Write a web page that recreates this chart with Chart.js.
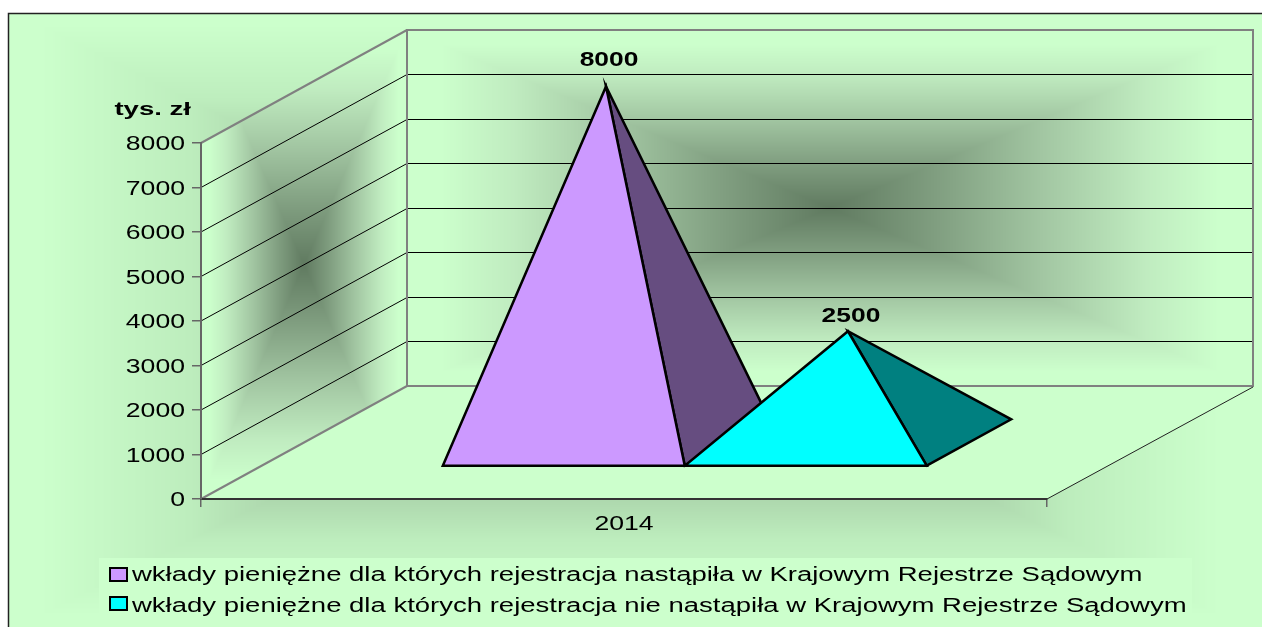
<!DOCTYPE html>
<html><head><meta charset="utf-8">
<style>html,body{margin:0;padding:0;background:#fff;overflow:hidden}#w{width:1262px;height:627px;position:relative}</style>
<script src="https://cdn.jsdelivr.net/npm/chart.js@4/dist/chart.umd.min.js"></script>
</head><body><div id="w"><canvas id="c" width="1262" height="627"></canvas></div>
<script>
const categories = ['2014'];
const registered = [8000];
const notRegistered = [2500];
const seriesNames = [
  'wkłady pieniężne dla których rejestracja nastąpiła w Krajowym Rejestrze Sądowym',
  'wkłady pieniężne dla których rejestracja nie nastąpiła w Krajowym Rejestrze Sądowym'
];
const frontColors = ['#CC99FF', '#00FFFF'];
const sideColors = ['#664D80', '#008080'];
const axisUnit = 'tys. zł';

const FONT = '"Liberation Sans", Arial, sans-serif';
const DEPTH = {x: 206, y: -113};
const STRETCH = 1.33;
const OUTER = [[0,96,122,96],[.63,176,219,176],[.745,189,237,189],[.9,198,248,198],[1,204,255,204]];
const WALL = [[0,96,122,96],[.25,128,158,128],[.5,162,198,162],[.75,192,236,192],[.92,204,255,204],[1,204,255,204]];

function shadeImage(x0,y0,x1,y1,stops){
  const w=x1-x0,h=y1-y0,off=document.createElement('canvas');off.width=w;off.height=h;
  const o=off.getContext('2d'),im=o.createImageData(w,h),d=im.data;
  for(let j=0;j<h;j++)for(let i=0;i<w;i++){
    const t=Math.min(1,Math.max(Math.abs(i+.5-w/2)/(w/2),Math.abs(j+.5-h/2)/(h/2)));
    let k=1;while(k<stops.length-1&&stops[k][0]<t)k++;
    const a=stops[k-1],b=stops[k],f=(t-a[0])/(b[0]-a[0]),p=(j*w+i)*4;
    d[p]=a[1]+(b[1]-a[1])*f;d[p+1]=a[2]+(b[2]-a[2])*f;d[p+2]=a[3]+(b[3]-a[3])*f;d[p+3]=255;
  }
  o.putImageData(im,0,0);return off;
}
function poly(ctx,pts){ctx.beginPath();pts.forEach((p,i)=>i?ctx.lineTo(p[0],p[1]):ctx.moveTo(p[0],p[1]));ctx.closePath();}
function stretchedText(ctx,text,x,y,font,align,sx){
  ctx.save();ctx.font=font;ctx.fillStyle='#000';ctx.textAlign=align;ctx.textBaseline='alphabetic';
  ctx.translate(x,y);ctx.scale(sx,1);ctx.fillText(text,0,0);ctx.restore();
}
function stretchLabels(scale,anchor,nudge){
  if(scale._stretched)return;scale._stretched=true;
  const orig=scale.drawLabels.bind(scale);
  scale.drawLabels=function(a){const c=scale.ctx;c.save();c.translate(anchor,nudge);c.scale(STRETCH,1);c.translate(-anchor,0);orig(a);c.restore();};
}

const scene = {
  id:'scene',
  beforeDraw(chart){
    const ctx=chart.ctx,{left:L,right:R,top:T,bottom:B}=chart.chartArea,dx=DEPTH.x,dy=DEPTH.y;
    stretchLabels(chart.scales.y,185,1.5);
    stretchLabels(chart.scales.x,(L+R)/2,-1);
    ctx.save();
    ctx.fillStyle='#fff';ctx.fillRect(0,0,1262,627);
    ctx.fillStyle='#CCFFCC';ctx.fillRect(9,14,1253,613);
    ctx.drawImage(shadeImage(40,25,1220,615,OUTER),40,25);
    ctx.strokeStyle='#222';ctx.lineWidth=1.5;
    ctx.beginPath();ctx.moveTo(8.5,627);ctx.lineTo(8.5,13.5);ctx.lineTo(1262,13.5);ctx.stroke();
    // legend panel
    ctx.fillStyle='#CCFFCC';ctx.fillRect(99,558,1093,69);
    // left wall
    const bx0=L+dx,bx1=R+dx,by0=T+dy,by1=B+dy;
    ctx.save();poly(ctx,[[L,T],[bx0,by0],[bx0,by1],[L,B]]);ctx.clip();
    ctx.drawImage(shadeImage(L,by0,bx0,B,WALL),L,by0);ctx.restore();
    // back wall
    ctx.drawImage(shadeImage(bx0,by0,bx1,by1,WALL),bx0,by0);
    // floor
    ctx.fillStyle='#CCFFCC';poly(ctx,[[L,B],[R,B],[bx1,by1],[bx0,by1]]);ctx.fill();
    // gridlines from the value scale
    ctx.strokeStyle='#000';ctx.lineWidth=1;
    chart.scales.y.ticks.forEach(t=>{
      if(t.value===0||t.value===chart.scales.y.max)return;
      const y=chart.scales.y.getPixelForValue(t.value),yb=Math.floor(y+dy)+.5;
      ctx.beginPath();ctx.moveTo(L,y);ctx.lineTo(bx0,yb);ctx.lineTo(bx1,yb);ctx.stroke();
    });
    // outlines
    ctx.strokeStyle='#808080';ctx.lineWidth=2;
    ctx.beginPath();ctx.moveTo(L,T);ctx.lineTo(bx0,by0);ctx.stroke();
    ctx.strokeRect(bx0,by0,bx1-bx0,by1-by0);
    ctx.beginPath();ctx.moveTo(L,B);ctx.lineTo(bx0,by1);ctx.stroke();
    ctx.strokeStyle='#222';ctx.lineWidth=1;
    ctx.beginPath();ctx.moveTo(R,B);ctx.lineTo(bx1,by1+1);ctx.stroke();
    ctx.restore();
  },
  afterDatasetsDraw(chart){
    const ctx=chart.ctx,dx=DEPTH.x,dy=DEPTH.y,base=chart.scales.y.getPixelForValue(0);
    const fF=.295,fB=.705,fA=.5;
    const labelGap=[28,16];
    ctx.save();ctx.lineJoin='miter';ctx.lineWidth=2.5;ctx.strokeStyle='#000';
    chart.data.datasets.forEach((ds,i)=>{
      const bar=chart.getDatasetMeta(i).data[0],hw=bar.width/2;
      const apex=[bar.x+dx*fA,bar.y+dy*fA];
      const fl=[bar.x-hw+dx*fF,base+dy*fF],fr=[bar.x+hw+dx*fF,base+dy*fF],br=[bar.x+hw+dx*fB,base+dy*fB];
      ctx.fillStyle=sideColors[i];poly(ctx,[fr,br,apex]);ctx.fill();ctx.stroke();
      ctx.fillStyle=frontColors[i];poly(ctx,[fl,fr,apex]);ctx.fill();ctx.stroke();
    });
    chart.data.datasets.forEach((ds,i)=>{
      const bar=chart.getDatasetMeta(i).data[0];
      stretchedText(ctx,String(ds.data[0]),bar.x+dx*fA+3,bar.y+dy*fA-labelGap[i]+7,'bold 20px '+FONT,'center',1.32);
    });
    // unit label
    stretchedText(ctx,axisUnit,191,115,'bold 19px '+FONT,'right',1.45);
    // legend
    const rows=[[568,581],[597,612]];
    seriesNames.forEach((name,i)=>{
      ctx.fillStyle=frontColors[i];ctx.strokeStyle='#000';ctx.lineWidth=2;
      ctx.fillRect(110,rows[i][0],17,13);ctx.strokeRect(110,rows[i][0],17,13);
      stretchedText(ctx,name,132,rows[i][1],'20px '+FONT,'left',1.375);
    });
    ctx.restore();
  }
};

new Chart(document.getElementById('c'),{
  type:'bar',
  data:{labels:categories,datasets:[
    {label:seriesNames[0],data:registered,backgroundColor:'rgba(0,0,0,0)',borderWidth:0},
    {label:seriesNames[1],data:notRegistered,backgroundColor:'rgba(0,0,0,0)',borderWidth:0}
  ]},
  plugins:[scene],
  options:{
    responsive:false,animation:false,
    layout:{padding:{top:143,right:215,left:0,bottom:0}},
    categoryPercentage:.572,barPercentage:1,
    plugins:{legend:{display:false},tooltip:{enabled:false},title:{display:false}},
    scales:{
      x:{
        afterFit(s){s.height=128;},
        grid:{offset:true,drawOnChartArea:false,tickLength:8,color:'#666',lineWidth:1.5},
        border:{color:'#333',width:2},
        ticks:{color:'#000',padding:6,font:{family:FONT,size:20},maxRotation:0}
      },
      y:{
        min:0,max:8000,
        afterFit(s){s.width=201;},
        grid:{drawOnChartArea:false,tickLength:9,color:'#666',lineWidth:1.5},
        border:{color:'#666',width:2},
        ticks:{stepSize:1000,color:'#000',padding:7,font:{family:FONT,size:20},callback:v=>String(v)}
      }
    }
  }
});
</script></body></html>
